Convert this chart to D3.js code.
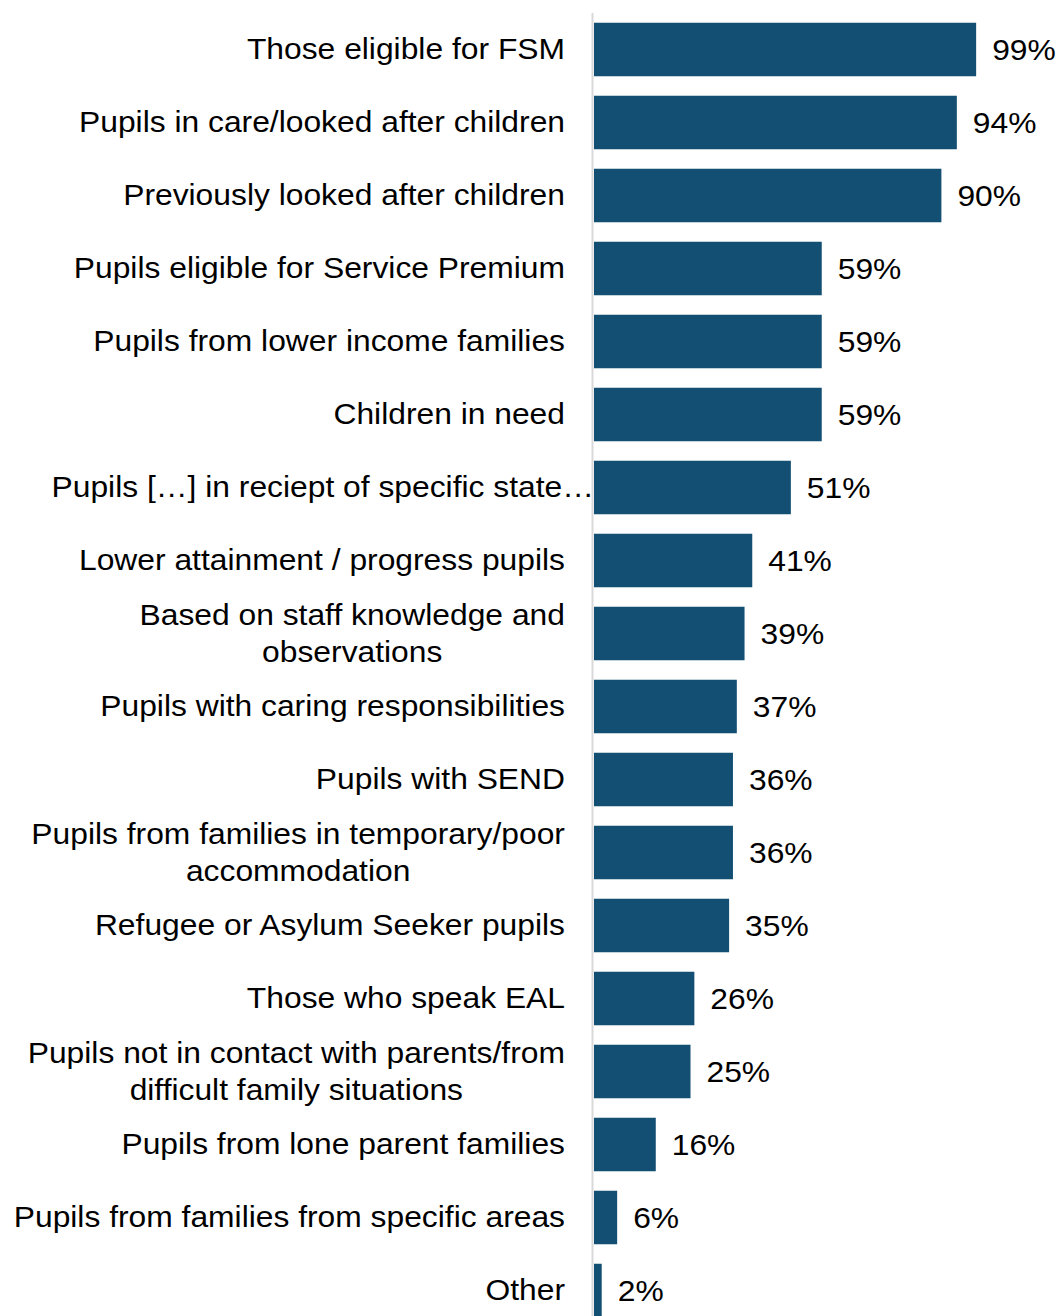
<!DOCTYPE html>
<html>
<head>
<meta charset="utf-8">
<script src="https://cdn.jsdelivr.net/npm/d3@7"></script>
<style>
  html, body { margin: 0; padding: 0; background: #fff; }
  svg { display: block; font-family: "Liberation Sans", Arial, sans-serif; }
</style>
</head>
<body>
<svg id="chart" width="1056" height="1316"></svg>
<script>
// Groups identified as disadvantaged (share of respondents, %)
const categories = [
  "Those eligible for FSM",
  "Pupils in care/looked after children",
  "Previously looked after children",
  "Pupils eligible for Service Premium",
  "Pupils from lower income families",
  "Children in need",
  "Pupils […] in reciept of specific state…",
  "Lower attainment / progress pupils",
  "Based on staff knowledge and\nobservations",
  "Pupils with caring responsibilities",
  "Pupils with SEND",
  "Pupils from families in temporary/poor\naccommodation",
  "Refugee or Asylum Seeker pupils",
  "Those who speak EAL",
  "Pupils not in contact with parents/from\ndifficult family situations",
  "Pupils from lone parent families",
  "Pupils from families from specific areas",
  "Other"
];
const values = [99, 94, 90, 59, 59, 59, 51, 41, 39, 37, 36, 36, 35, 26, 25, 16, 6, 2];
// Labels that were cut short keep their own right edge
const truncated = ["Pupils […] in reciept of specific state…"];

const svg = d3.select("#chart");
const fontSize = 30;
const stretch = 1.06;      // slightly wide lettering
const lineHeight = 37;
const barColor = "#134f73";

// scale text horizontally about its anchor point
const widen = ax => `translate(${ax},0) scale(${stretch},1) translate(${-ax},0)`;

const x = d3.scaleLinear().domain([0, 100]).range([594, 980]);
const y = d3.scaleBand()
  .domain(categories)
  .range([13, 13 + 18 * 73])
  .paddingInner(0.267)
  .paddingOuter(0.1335);

// Bars
svg.append("g").selectAll("rect")
  .data(categories)
  .join("rect")
  .attr("x", x(0))
  .attr("y", d => y(d))
  .attr("width", (d, i) => x(values[i]) - x(0))
  .attr("height", y.bandwidth())
  .attr("fill", barColor);

// Category axis line
svg.append("line")
  .attr("x1", 592.5).attr("x2", 592.5)
  .attr("y1", 13).attr("y2", 1316)
  .attr("stroke", "#d9d9d9")
  .attr("stroke-width", 2);

// Category labels (multi-line blocks centred on each other, right aligned)
const labelRight = 565;
const labelG = svg.append("g").attr("font-size", fontSize).attr("fill", "#000");
categories.forEach(c => {
  const lines = c.split("\n");
  const cy = y(c) + y.bandwidth() / 2 - 0.5;
  const t = labelG.append("text").attr("dominant-baseline", "central");
  if (truncated.includes(c)) {
    t.attr("x", 594).attr("y", cy).attr("text-anchor", "end")
      .attr("transform", widen(594)).text(c);
    return;
  }
  t.attr("transform", widen(labelRight));
  if (lines.length === 1) {
    t.attr("x", labelRight).attr("y", cy).attr("text-anchor", "end").text(c);
    return;
  }
  // measure widest line to find block centre
  const tmp = labelG.append("text").attr("visibility", "hidden");
  const widths = lines.map(l => { tmp.text(l); return tmp.node().getComputedTextLength(); });
  tmp.remove();
  const maxW = d3.max(widths);
  const centerX = labelRight - maxW / 2;
  t.attr("text-anchor", "middle");
  lines.forEach((l, k) => {
    t.append("tspan")
      .attr("x", centerX)
      .attr("y", cy + (k - (lines.length - 1) / 2) * lineHeight)
      .text(l);
  });
});

// Value labels
svg.append("g").attr("font-size", fontSize).attr("fill", "#000")
  .selectAll("text")
  .data(categories)
  .join("text")
  .attr("x", (d, i) => x(values[i]) + 16)
  .attr("y", d => y(d) + y.bandwidth() / 2 + 0.5)
  .attr("dominant-baseline", "central")
  .attr("transform", (d, i) => widen(x(values[i]) + 16))
  .text((d, i) => values[i] + "%");
</script>
</body>
</html>
